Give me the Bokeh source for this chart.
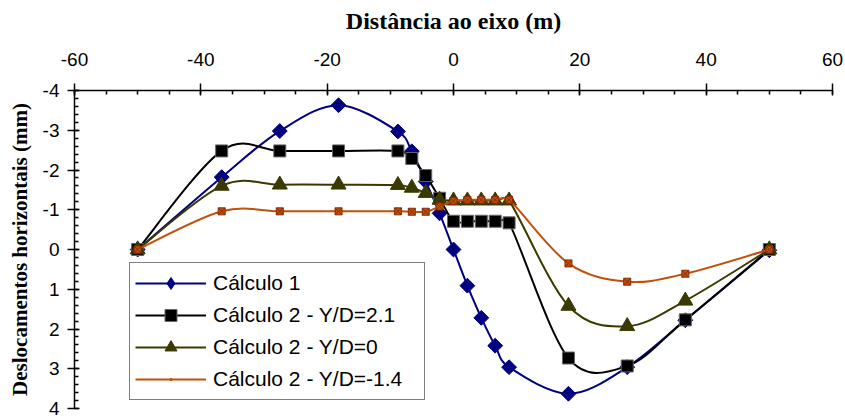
import numpy as np
from bokeh.plotting import figure
from bokeh.models import Range1d, SingleIntervalTicker, Legend, LegendItem, CustomJSTickFormatter
from bokeh.embed import file_html
from bokeh.resources import INLINE

# ---- data ----
distancia = [-50, -36.7, -27.5, -18.2, -8.8, -6.6, -4.4, -2.2, 0, 2.2, 4.4, 6.6, 8.8, 18.2, 27.5, 36.7, 50]
calculo1 = [0, -1.82, -2.98, -3.63, -2.97, -2.47, -1.71, -0.91, 0, 0.91, 1.72, 2.42, 2.96, 3.63, 2.96, 1.78, 0.02]
calc2_yd_2_1 = [0, -2.48, -2.48, -2.48, -2.48, -2.29, -1.86, -1.29, -0.71, -0.71, -0.71, -0.71, -0.67, 2.73, 2.93, 1.77, 0.0]
calc2_yd_0 = [0, -1.60, -1.63, -1.63, -1.62, -1.55, -1.42, -1.25, -1.23, -1.23, -1.23, -1.23, -1.23, 1.42, 1.93, 1.29, 0.0]
calc2_yd_m1_4 = [0, -0.96, -0.96, -0.96, -0.96, -0.95, -0.95, -1.08, -1.22, -1.25, -1.25, -1.25, -1.25, 0.35, 0.81, 0.61, 0.0]
series_labels = ["Cálculo 1", "Cálculo 2 - Y/D=2.1", "Cálculo 2 - Y/D=0", "Cálculo 2 - Y/D=-1.4"]
x_title = "Distância ao eixo (m)"
y_title = "Deslocamentos horizontais (mm)"

X_MIN, X_MAX, Y_MIN, Y_MAX = -60, 60, -4, 4
W, H = 845, 419
ML, MR, MT, MB = 74, 13, 90, 11
FW, FH = W - ML - MR, H - MT - MB
KX, KY = FW / (X_MAX - X_MIN), FH / (Y_MAX - Y_MIN)


def smooth_segments(xs, ys):
    """Bezier control points for a smoothed line through the data (Catmull-Rom style)."""
    P = np.column_stack([np.asarray(xs, float) * KX, np.asarray(ys, float) * KY])
    n = len(P)
    out = {k: [] for k in ("x0", "y0", "x1", "y1", "cx0", "cy0", "cx1", "cy1")}
    for i in range(n - 1):
        p0, p1, p2, p3 = P[max(i - 1, 0)], P[i], P[i + 1], P[min(i + 2, n - 1)]
        d = np.linalg.norm(p2 - p1)
        t1, t2 = (p2 - p0) / 6.0, (p3 - p1) / 6.0
        for t in (t1, t2):
            L = np.linalg.norm(t)
            if L > d / 2 and L > 0:
                t *= (d / 2) / L
        c1, c2 = p1 + t1, p2 - t2
        out["x0"].append(p1[0] / KX); out["y0"].append(p1[1] / KY)
        out["x1"].append(p2[0] / KX); out["y1"].append(p2[1] / KY)
        out["cx0"].append(c1[0] / KX); out["cy0"].append(c1[1] / KY)
        out["cx1"].append(c2[0] / KX); out["cy1"].append(c2[1] / KY)
    return out


p = figure(width=W, height=H, x_range=Range1d(X_MIN, X_MAX), y_range=Range1d(Y_MAX, Y_MIN),
           x_axis_location="above", output_backend="svg", toolbar_location=None,
           min_border_left=ML, min_border_right=MR, min_border_top=MT, min_border_bottom=MB)
p.grid.visible = False
p.outline_line_color = None
p.background_fill_color = "white"
p.border_fill_color = "white"

BLUE, BLACK, OLIVE, ORANGE = "#000080", "#000000", "#3A3A00", "#C0500A"

# Cálculo 1
s = smooth_segments(distancia, calculo1)
b1 = p.bezier(line_color=BLUE, line_width=2, **s)
h1 = p.scatter(distancia, calculo1, marker="diamond", size=8, color=BLUE)
m1 = p.scatter(distancia, calculo1, marker="square", angle=np.pi / 4, size=10.5, color=BLUE)

# Cálculo 2 - Y/D=2.1
s = smooth_segments(distancia, calc2_yd_2_1)
b2 = p.bezier(line_color=BLACK, line_width=2, **s)
m2 = p.scatter(distancia, calc2_yd_2_1, marker="square", size=12, fill_color=BLACK, line_color="#666666", line_width=1)

# Cálculo 2 - Y/D=0
s = smooth_segments(distancia, calc2_yd_0)
b3 = p.bezier(line_color=OLIVE, line_width=2, **s)
m3 = p.scatter(distancia, calc2_yd_0, marker="triangle", size=15, color=OLIVE)

# Cálculo 2 - Y/D=-1.4
s = smooth_segments(distancia, calc2_yd_m1_4)
b4 = p.bezier(line_color=ORANGE, line_width=2, **s)
h4 = p.scatter(distancia, calc2_yd_m1_4, marker="dot", size=6, color=ORANGE)
m4 = p.scatter(distancia, calc2_yd_m1_4, marker="square_x", size=7, fill_color=ORANGE, line_color="#8A2A00", line_width=1)

# axes
fmt = CustomJSTickFormatter(code="return tick.toFixed(0);")
xa = p.xaxis[0]
xa.ticker = SingleIntervalTicker(interval=20, num_minor_ticks=4)
ya = p.yaxis[0]
ya.ticker = SingleIntervalTicker(interval=1, num_minor_ticks=5)
for ax in (xa, ya):
    ax.formatter = fmt
    ax.axis_line_width = 1.5
    ax.axis_line_color = "black"
    ax.major_tick_line_width = 1.5
    ax.minor_tick_line_width = 1.5
    ax.major_tick_line_color = "black"
    ax.minor_tick_line_color = "black"
    ax.major_tick_in = 5
    ax.major_tick_out = 7
    ax.minor_tick_in = 4
    ax.minor_tick_out = 0
    ax.major_label_text_font = "Liberation Sans"
    ax.major_label_text_font_size = "19px"
    ax.major_label_text_line_height = 1.0
    ax.major_label_text_color = "black"
    ax.axis_label_text_font = "Liberation Serif"
    ax.axis_label_text_font_style = "bold"
    ax.axis_label_text_color = "black"
xa.axis_label = x_title
ya.axis_label = y_title
xa.axis_label_text_font_size = "24px"
ya.axis_label_text_font_size = "21px"
xa.major_label_standoff = 18
xa.axis_label_standoff = 16
ya.major_label_standoff = 8
ya.axis_label_standoff = 8

legend = Legend(items=[
    LegendItem(label=series_labels[0], renderers=[b1, h1]),
    LegendItem(label=series_labels[1], renderers=[b2, m2]),
    LegendItem(label=series_labels[2], renderers=[b3, m3]),
    LegendItem(label=series_labels[3], renderers=[b4, h4]),
], location=(55, 8))
legend.padding = 5
legend.spacing = 2
legend.glyph_height = 30
legend.label_height = 30
legend.glyph_width = 71
legend.label_standoff = 7
legend.label_width = 206
legend.margin = 0
legend.border_line_color = "black"
legend.border_line_width = 1.5
legend.background_fill_color = "white"
legend.background_fill_alpha = 1
legend.label_text_font = "Liberation Sans"
legend.label_text_font_size = "21px"
legend.label_text_color = "black"
p.add_layout(legend)

open("out.html", "w").write(file_html(p, INLINE))
